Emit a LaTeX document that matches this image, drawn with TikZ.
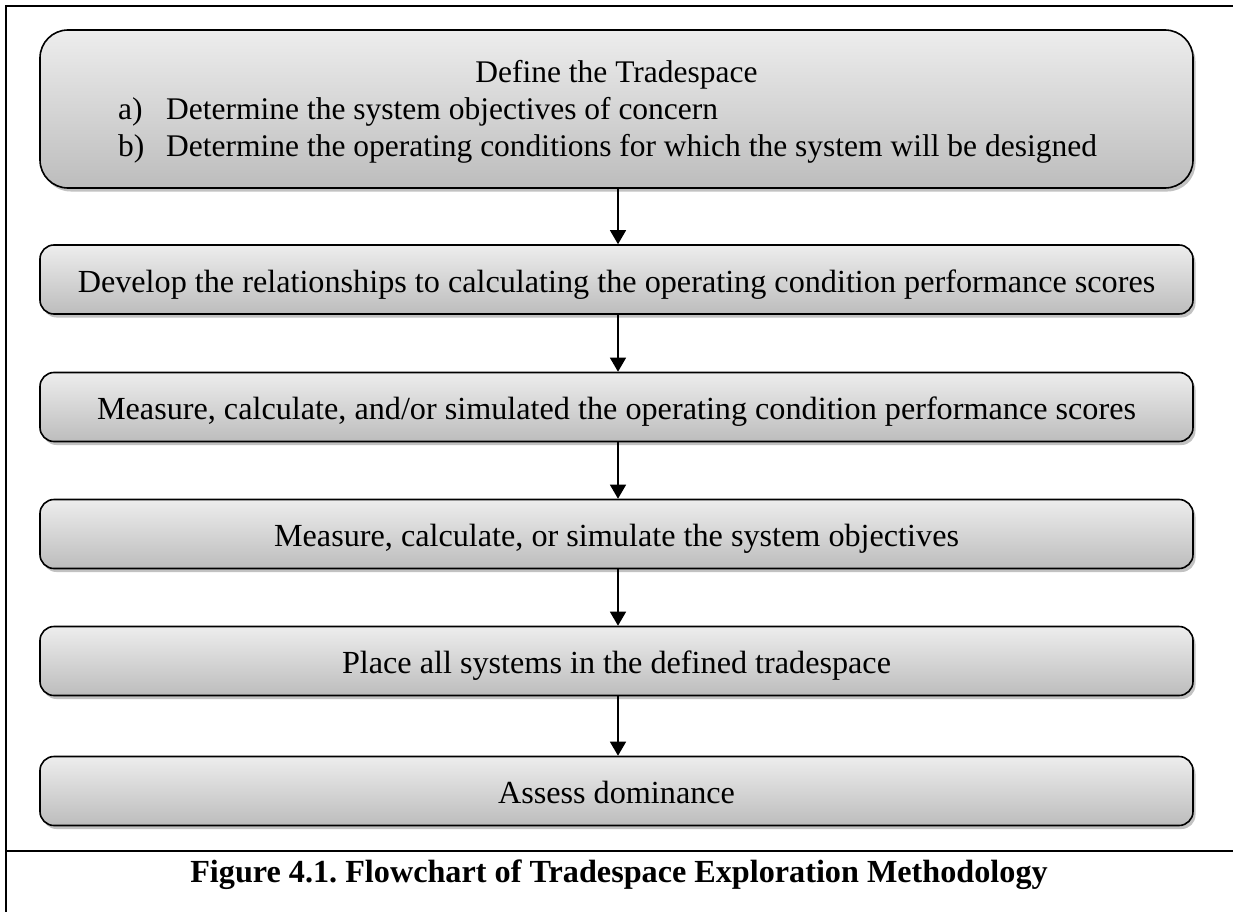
\documentclass[tikz,border=0pt]{standalone}
\usepackage{fontspec}
\setmainfont{Liberation Serif}
\usetikzlibrary{shadows,arrows.meta}
\frenchspacing
\tikzset{
  stepbox/.style={draw=black, line width=1.6pt, rounded corners=14pt,
    top color=black!7, bottom color=black!26,
    drop shadow={shadow xshift=2.5pt, shadow yshift=-3.5pt, opacity=0.4, fill=black!60},
    minimum width=1153pt, inner sep=0pt},
  bigbox/.style={stepbox, rounded corners=28pt},
  steptext/.style={anchor=base, inner sep=0pt, font=\fontsize{32.2}{37}\selectfont},
  toptext/.style={anchor=base, inner sep=0pt, font=\fontsize{31.5}{37}\selectfont},
  listtext/.style={anchor=base west, inner sep=0pt, font=\fontsize{31.5}{37}\selectfont},
  flow/.style={line width=1.3pt, -{Triangle[length=14pt,width=16pt]}},
  frame/.style={line width=2pt}
}
\begin{document}
\begin{tikzpicture}[x=1pt,y=-1pt]
\useasboundingbox (0,0) rectangle (1233,912);
% frame
\coordinate (ftl) at (6,6);
\coordinate (ftr) at (1240,6);
\coordinate (fbl) at (6,920);
\coordinate (cl) at (6,851);
\coordinate (cr) at (1240,851);
\draw[frame] (fbl) -- (ftl) -- (ftr);
\draw[frame] (cl) -- (cr);
% boxes
\node[bigbox, minimum height=158pt] (b1) at (616.5,109) {};
\node[stepbox, minimum height=69pt] (b2) at (616.5,279.5) {};
\node[stepbox, minimum height=69pt] (b3) at (616.5,407) {};
\node[stepbox, minimum height=69pt] (b4) at (616.5,534) {};
\node[stepbox, minimum height=69pt] (b5) at (616.5,661) {};
\node[stepbox, minimum height=69pt] (b6) at (616.5,791) {};
% texts
\node[toptext] (t1) at (616.5,83) {Define the Tradespace};
\node[listtext] (la) at (118,120) {a)};
\node[listtext] (ta) at (166,120) {Determine the system objectives of concern};
\node[listtext] (lb) at (118,157) {b)};
\node[listtext] (tb) at (166,157) {Determine the operating conditions for which the system will be designed};
\node[steptext] (t2) at (616.5,292) {Develop the relationships to calculating the operating condition performance scores};
\node[steptext] (t3) at (616.5,419.5) {Measure, calculate, and/or simulated the operating condition performance scores};
\node[steptext] (t4) at (616.5,546.5) {Measure, calculate, or simulate the system objectives};
\node[steptext] (t5) at (616.5,673.5) {Place all systems in the defined tradespace};
\node[steptext] (t6) at (616.5,803.5) {Assess dominance};
% arrows
\foreach \a/\b in {b1/b2,b2/b3,b3/b4,b4/b5,b5/b6}
  \draw[flow] ([xshift=1.5pt]\a.south) -- ([xshift=1.5pt]\b.north);
% caption
\node[anchor=base, inner sep=0pt, font=\bfseries\fontsize{32.2}{37}\selectfont] (cap) at (619,882) {Figure 4.1. Flowchart of Tradespace Exploration Methodology};
\end{tikzpicture}
\end{document}
